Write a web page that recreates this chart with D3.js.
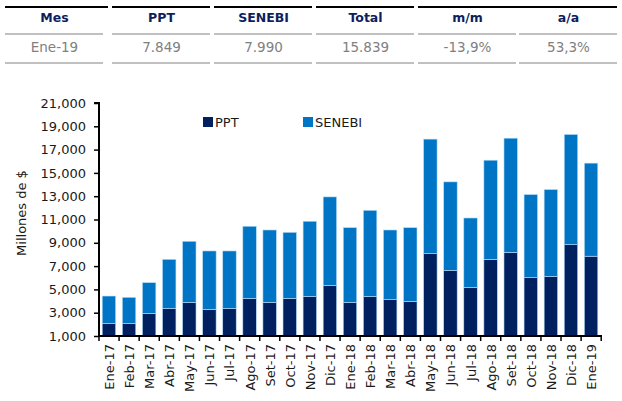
<!DOCTYPE html>
<html>
<head>
<meta charset="utf-8">
<script src="https://cdn.jsdelivr.net/npm/d3@7"></script>
<style>
  body { margin: 0; background: #fff; }
  svg { font-family: "DejaVu Sans", sans-serif; }
</style>
</head>
<body>
<svg id="chart" width="622" height="401"></svg>
<script>
// summary table
const tableHead = ["Mes", "PPT", "SENEBI", "Total", "m/m", "a/a"];
const tableRow = ["Ene-19", "7.849", "7.990", "15.839", "-13,9%", "53,3%"];

// monthly series (millones de $)
const months = ["Ene-17","Feb-17","Mar-17","Abr-17","May-17","Jun-17","Jul-17","Ago-17","Set-17","Oct-17","Nov-17","Dic-17",
                "Ene-18","Feb-18","Mar-18","Abr-18","May-18","Jun-18","Jul-18","Ago-18","Set-18","Oct-18","Nov-18","Dic-18","Ene-19"];
const ppt = [2080, 2080, 2940, 3370, 3890, 3290, 3370, 4230, 3890, 4230, 4400, 5350,
             3890, 4400, 4120, 3970, 8070, 6640, 5180, 7580, 8180, 6010, 6120, 8840, 7849];
const senebi = [2350, 2240, 2640, 4210, 5240, 5010, 4930, 6190, 6210, 5670, 6450, 7590,
                6410, 7390, 5980, 6330, 9830, 7590, 5950, 8510, 9800, 7130, 7450, 9460, 7990];
const yTicks = [1000, 3000, 5000, 7000, 9000, 11000, 13000, 15000, 17000, 19000, 21000];

const colors = {PPT: "#002060", SENEBI: "#0075c6"};

const svg = d3.select("#chart");

// ---- table on top
const colX = [5, 112, 214, 316, 418, 519];
const colW = 99;
const tbl = svg.append("g");

// black top rule: last two columns share one segment
[[5,108],[112,210],[214,312],[316,414],[418,617]].forEach(s => {
    tbl.append("line").attr("x1", s[0]).attr("x2", s[1]).attr("y1", 7).attr("y2", 7)
        .attr("stroke", "#000").attr("stroke-width", 2.2);
});
colX.forEach((x, i) => {
    [34, 63].forEach(y => {
        tbl.append("line").attr("x1", x).attr("x2", x + colW - 1).attr("y1", y).attr("y2", y)
            .attr("stroke", "#c0c0c0").attr("stroke-width", 2);
    });
    tbl.append("text").attr("x", x + colW / 2).attr("y", 22)
        .attr("text-anchor", "middle").attr("font-size", 12.5).attr("font-weight", "bold")
        .attr("fill", "#0d1f5c").text(tableHead[i]);
    tbl.append("text").attr("x", x + colW / 2).attr("y", 52)
        .attr("text-anchor", "middle").attr("font-size", 13.5)
        .attr("fill", "#808080").text(tableRow[i]);
});

// ---- chart
const x = d3.scaleBand().domain(months).range([99, 601]).paddingInner(0.33).paddingOuter(0.16);
const y = d3.scaleLinear().domain([1000, 21000]).range([336, 103]);

const data = months.map((m, i) => ({month: m, PPT: ppt[i], SENEBI: senebi[i]}));
const stack = d3.stack().keys(["PPT", "SENEBI"])(data);

svg.append("g").selectAll("g")
    .data(stack)
    .join("g")
    .attr("fill", d => colors[d.key])
    .selectAll("rect")
    .data(d => d)
    .join("rect")
    .attr("x", d => x(d.data.month))
    .attr("width", x.bandwidth())
    .attr("y", d => y(d[1]))
    .attr("height", d => y(Math.max(d[0], 1000)) - y(d[1]))
    .attr("stroke", "#b9dcf5")
    .attr("stroke-width", 0.6);

// y axis
const yAxis = svg.append("g")
    .attr("transform", "translate(99,0)")
    .call(d3.axisLeft(y).tickValues(yTicks).tickSize(5).tickPadding(8).tickFormat(d3.format(",")));
yAxis.select(".domain").attr("stroke-width", 2).attr("d", "M-5,103H0V337");
yAxis.selectAll(".tick line").attr("stroke-width", 1.5);
yAxis.selectAll("text").attr("font-size", 13).attr("font-family", "DejaVu Sans").attr("fill", "#1a1a1a");

// x axis with ticks on band edges
const xAxis = svg.append("g").attr("transform", "translate(0,336)");
xAxis.append("line").attr("x1", 98).attr("x2", 602).attr("y1", 0).attr("y2", 0)
    .attr("stroke", "#000").attr("stroke-width", 2);
const step = x.step();
const edges = d3.range(months.length + 1).map(i => 99 + i * step);
xAxis.selectAll(".edge").data(edges).join("line")
    .attr("x1", d => d).attr("x2", d => d).attr("y1", 0).attr("y2", 5)
    .attr("stroke", "#000").attr("stroke-width", 1.5);
xAxis.selectAll(".lbl").data(months).join("text")
    .attr("transform", d => `translate(${x(d) + x.bandwidth() / 2 + 5},8) rotate(-90)`)
    .attr("text-anchor", "end")
    .attr("font-size", 13)
    .attr("fill", "#1a1a1a")
    .text(d => d);

// y title
svg.append("text")
    .attr("transform", "translate(26,213) rotate(-90)")
    .attr("text-anchor", "middle")
    .attr("font-size", 13)
    .attr("fill", "#1a1a1a")
    .text("Millones de $");

// legend
const legend = [{k: "PPT", x: 203}, {k: "SENEBI", x: 303}];
legend.forEach(l => {
    svg.append("rect").attr("x", l.x).attr("y", 117).attr("width", 10).attr("height", 10)
        .attr("fill", colors[l.k]);
    svg.append("text").attr("x", l.x + 12).attr("y", 127).attr("font-size", 13)
        .attr("fill", "#1a1a1a").text(l.k);
});
</script>
</body>
</html>
